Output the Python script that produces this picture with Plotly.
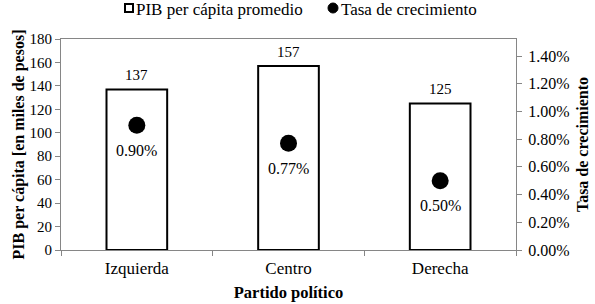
import plotly.graph_objects as go

categories = ["Izquierda", "Centro", "Derecha"]
pib = [137, 157, 125]
tasa = [0.0090, 0.0077, 0.0050]
tasa_labels = ["0.90%", "0.77%", "0.50%"]
legend_names = ["PIB per cápita promedio", "Tasa de crecimiento"]

FONT = "'Times New Roman', 'Liberation Serif', serif"
GRAY = "#868686"

W, H = 595, 304
L, R, T, B = 61, 79, 39, 54
PW, PH = W - L - R, H - T - B


def px(xp):
    return (xp - L) / PW


def py(yp):
    return (H - B - yp) / PH


fig = go.Figure()
fig.add_trace(go.Bar(
    x=categories, y=pib, width=0.4,
    marker=dict(color="white", line=dict(color="black", width=2)),
    showlegend=False, name=legend_names[0],
))
fig.add_trace(go.Scatter(
    x=categories, y=tasa, yaxis="y2", mode="markers",
    marker=dict(color="black", size=17),
    showlegend=False, name=legend_names[1],
))

for c, v in zip(categories, pib):
    fig.add_annotation(x=c, y=v, xref="x", yref="y", text=str(v), showarrow=False,
                       yanchor="bottom", yshift=4,
                       font=dict(family=FONT, size=15, color="black"))
for c, v, t in zip(categories, tasa, tasa_labels):
    fig.add_annotation(x=c, y=v, xref="x", yref="y2", text=t, showarrow=False,
                       yanchor="middle", yshift=-25,
                       font=dict(family=FONT, size=16, color="black"))

# legend (drawn manually to match the compact original layout)
fig.add_shape(type="rect", xref="paper", yref="paper",
              x0=px(125), x1=px(133), y0=py(12), y1=py(4),
              line=dict(color="black", width=2), fillcolor="white")
fig.add_shape(type="circle", xref="paper", yref="paper",
              x0=px(328), x1=px(338), y0=py(13), y1=py(3),
              line=dict(color="black", width=1), fillcolor="black")
fig.add_annotation(xref="paper", yref="paper", x=px(134), y=py(9),
                   xanchor="left", yanchor="middle", showarrow=False,
                   text=legend_names[0], font=dict(family=FONT, size=17, color="black"))
fig.add_annotation(xref="paper", yref="paper", x=px(339), y=py(9),
                   xanchor="left", yanchor="middle", showarrow=False,
                   text=legend_names[1], font=dict(family=FONT, size=17, color="black"))

fig.update_layout(
    width=W, height=H,
    margin=dict(l=L, r=R, t=T, b=B, autoexpand=False),
    paper_bgcolor="white", plot_bgcolor="white",
    font=dict(family=FONT, size=15, color="black"),
    showlegend=False,
    xaxis=dict(
        showline=True, linecolor=GRAY, linewidth=1, mirror=True,
        ticks="outside", tickson="boundaries", ticklen=5, tickcolor=GRAY,
        tickfont=dict(family=FONT, size=17), ticklabelstandoff=3,
        title=dict(text="<b>Partido político</b>", font=dict(family=FONT, size=16.5), standoff=9),
        showgrid=False,
    ),
    yaxis=dict(
        range=[0, 180], dtick=20, showgrid=False, zeroline=False,
        showline=True, linecolor=GRAY, linewidth=1, mirror=True,
        ticks="outside", ticklen=5, tickcolor=GRAY,
        tickfont=dict(family=FONT, size=15),
        title=dict(text="<b>PIB per cápita [en miles de pesos]</b>",
                   font=dict(family=FONT, size=16), standoff=0),
    ),
    yaxis2=dict(
        overlaying="y", side="right", range=[0, 0.01523],
        tickvals=[0, 0.002, 0.004, 0.006, 0.008, 0.010, 0.012, 0.014],
        tickformat=".2%", showgrid=False, zeroline=False,
        ticks="outside", ticklen=5, tickcolor=GRAY,
        tickfont=dict(family=FONT, size=16), ticklabelstandoff=3,
        title=dict(text="<b>Tasa de crecimiento</b>",
                   font=dict(family=FONT, size=16), standoff=8),
    ),
)

fig.write_html("out.html", config={"displayModeBar": False},
               post_script="document.body.style.margin='0';")
